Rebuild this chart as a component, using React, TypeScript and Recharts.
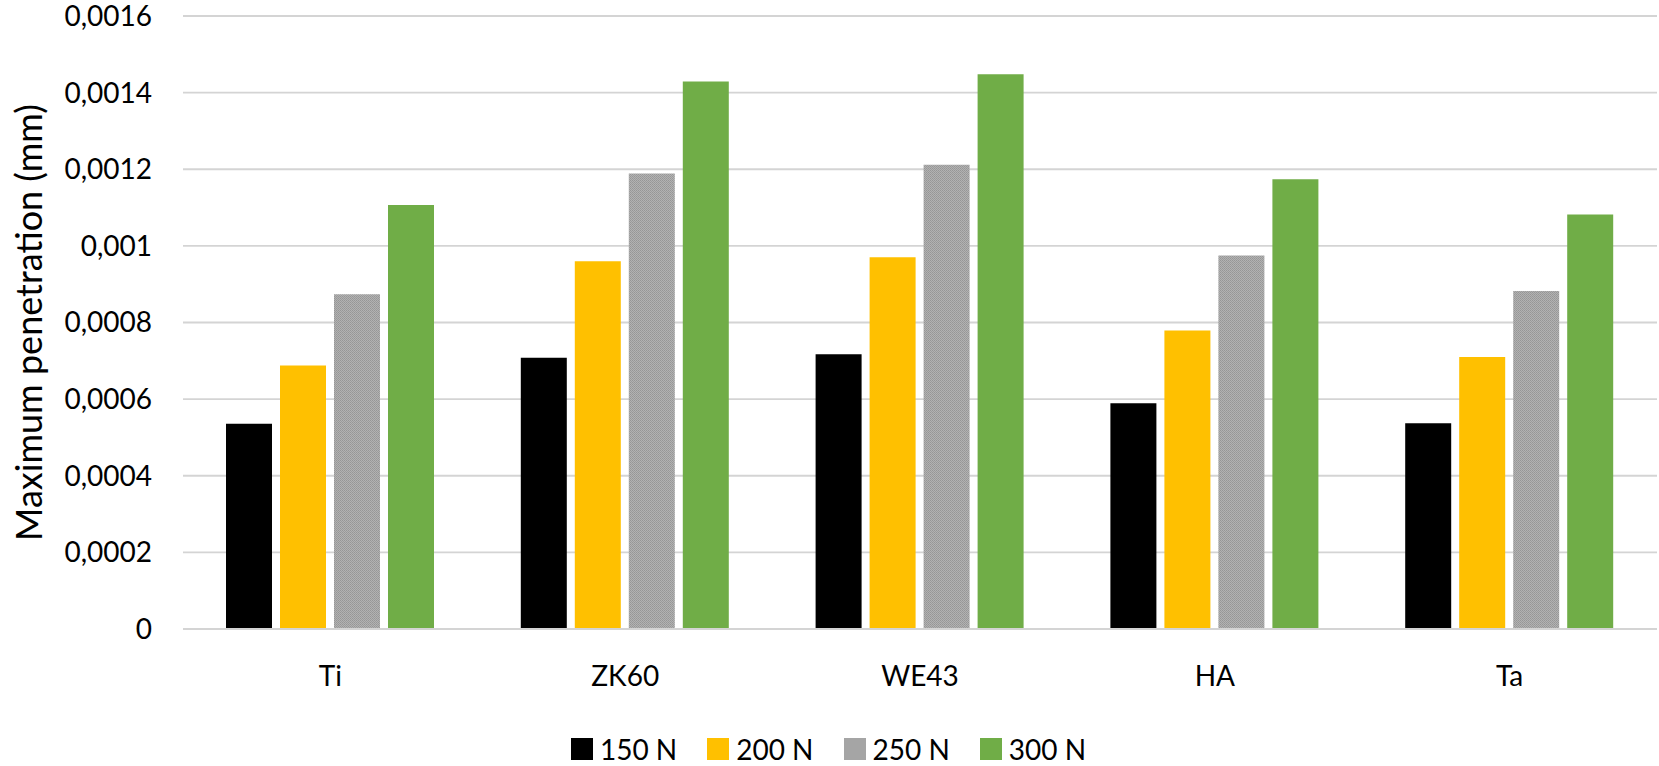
import React from 'react';
import { BarChart, Bar, XAxis, YAxis, CartesianGrid, Legend, Label } from 'recharts';

// materials on the x axis
const materials = ['Ti', 'ZK60', 'WE43', 'HA', 'Ta'];

// maximum penetration (mm) per load
const load150 = [0.000536, 0.000708, 0.000717, 0.000589, 0.000537];
const load200 = [0.000688, 0.00096, 0.00097, 0.000779, 0.00071];
const load250 = [0.000874, 0.001189, 0.001212, 0.000975, 0.000882];
const load300 = [0.001107, 0.001429, 0.001448, 0.001174, 0.001082];

const yTicks = [0, 0.0002, 0.0004, 0.0006, 0.0008, 0.001, 0.0012, 0.0014, 0.0016];
const yTickLabels = ['0', '0,0002', '0,0004', '0,0006', '0,0008', '0,001', '0,0012', '0,0014', '0,0016'];

const chartData = materials.map((m, i) => ({
  material: m,
  '150 N': load150[i],
  '200 N': load200[i],
  '250 N': load250[i],
  '300 N': load300[i],
}));

const FONT = 'Lato, "Open Sans", sans-serif';

function LegendContent(props: any) {
  const items = props.payload || [];
  return (
    <div style={{ height: 34, display: 'flex', justifyContent: 'center', alignItems: 'center', fontFamily: FONT, fontSize: 28, color: '#000' }}>
      {items.map((it: any, i: number) => (
        <div key={it.value} style={{ display: 'flex', alignItems: 'center', marginRight: i < items.length - 1 ? 30 : 0 }}>
          <span style={{ width: 22, height: 22, background: it.value === '250 N' ? '#a5a5a5' : it.color, marginRight: 7, display: 'inline-block' }} />
          <span>{it.value}</span>
        </div>
      ))}
    </div>
  );
}

function YTitle(props: any) {
  const vb = props.viewBox || { y: 0, height: 0 };
  const cy = vb.y + vb.height / 2;
  return (
    <text x={28} y={cy} transform={`rotate(-90 28 ${cy})`} textAnchor="middle" dominantBaseline="central"
      style={{ fontFamily: FONT, fontSize: 36, fill: '#000' }}>
      Maximum penetration (mm)
    </text>
  );
}

export default function App() {
  return (
    <div style={{ position: 'absolute', left: 0, top: 0, background: '#fff' }}>
      <BarChart
        width={1659}
        height={766}
        data={chartData}
        margin={{ top: 16, right: 2, left: 0, bottom: 0 }}
        barSize={46}
        barGap={8}
      >
        <defs>
          <pattern id="grayDots" width="2" height="2" patternUnits="userSpaceOnUse">
            <rect width="2" height="2" fill="#b2b2b2" />
            <rect width="1" height="1" fill="#969696" />
            <rect x="1" y="1" width="1" height="1" fill="#9c9c9c" />
          </pattern>
        </defs>
        <CartesianGrid vertical={false} stroke="#d4d4d4" strokeWidth={1.8} />
        <XAxis
          dataKey="material"
          height={103}
          tickLine={false}
          tickSize={0}
          tickMargin={37}
          axisLine={{ stroke: '#d4d4d4', strokeWidth: 1.8 }}
          tick={{ fontFamily: FONT, fontSize: 28, fill: '#000' }}
        />
        <YAxis
          width={183}
          domain={[0, 0.0016]}
          ticks={yTicks}
          interval={0}
          tickFormatter={(v: number, i: number) => yTickLabels[i] ?? String(v).replace('.', ',')}
          axisLine={false}
          tickLine={false}
          tickSize={0}
          tickMargin={31}
          tick={{ fontFamily: FONT, fontSize: 28, fill: '#000' }}
        >
          <Label content={<YTitle />} />
        </YAxis>
        <Legend verticalAlign="bottom" content={<LegendContent />} />
        <Bar dataKey="150 N" fill="#000000" isAnimationActive={false} />
        <Bar dataKey="200 N" fill="#ffc000" isAnimationActive={false} />
        <Bar dataKey="250 N" fill="url(#grayDots)" isAnimationActive={false} />
        <Bar dataKey="300 N" fill="#70ad47" isAnimationActive={false} />
      </BarChart>
    </div>
  );
}
